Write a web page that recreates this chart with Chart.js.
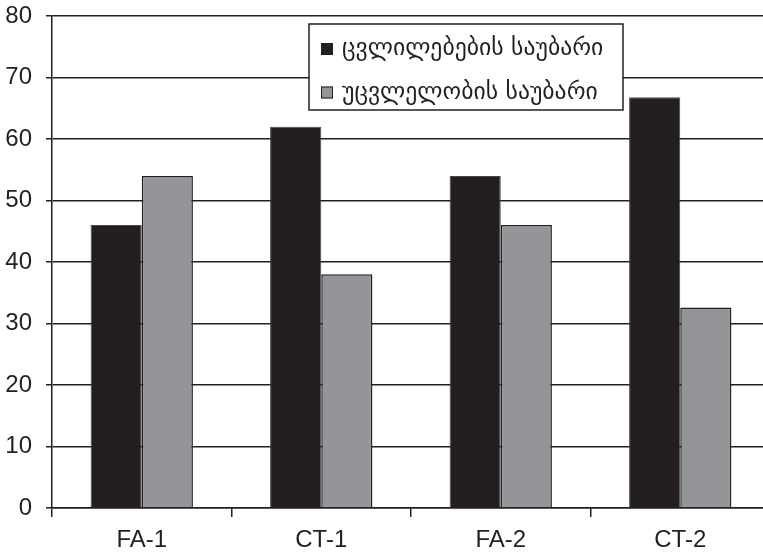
<!DOCTYPE html>
<html>
<head>
<meta charset="utf-8">
<script src="https://cdn.jsdelivr.net/npm/chart.js@4/dist/chart.umd.min.js"></script>
<style>
  html, body { margin: 0; padding: 0; background: #fff; overflow: hidden; width: 763px; height: 553px; }
  canvas { display: block; }
</style>
</head>
<body>
<canvas id="c" width="770" height="553"></canvas>
<script>
// Categories and series
const categories = ['FA-1', 'CT-1', 'FA-2', 'CT-2'];
const changeTalk = [46, 62, 54, 66.8];
const sustainTalk = [54, 38, 46, 32.6];
const seriesNames = ['ცვლილებების საუბარი', 'უცვლელობის საუბარი'];
const yTicks = [0, 10, 20, 30, 40, 50, 60, 70, 80];

const INK = '#231f20';
const GREY = '#939598';
const FONT = '"Liberation Sans", Arial, sans-serif';

// Boxed legend drawn inside the plot area
const boxLegend = {
  id: 'boxLegend',
  afterDraw(chart) {
    const ctx = chart.ctx;
    const x = 309, y = 24, w = 314, h = 86;
    ctx.save();
    ctx.fillStyle = '#fff';
    ctx.fillRect(x, y, w, h);
    ctx.strokeStyle = INK;
    ctx.lineWidth = 1.5;
    ctx.strokeRect(x, y, w, h);
    const rows = [55, 98.5];
    chart.data.datasets.forEach((ds, i) => {
      const base = rows[i];
      ctx.fillStyle = ds.backgroundColor;
      ctx.fillRect(x + 12, base - 12, 12, 12);
      ctx.strokeStyle = INK;
      ctx.lineWidth = 1;
      ctx.strokeRect(x + 12.5, base - 11.5, 11, 11);
      ctx.fillStyle = INK;
      ctx.font = '23.7px "DejaVu Sans", "Noto Sans", sans-serif';
      ctx.textBaseline = 'alphabetic';
      ctx.textAlign = 'left';
      ctx.fillText(ds.label, x + 33, base);
    });
    ctx.restore();
  }
};

new Chart(document.getElementById('c'), {
  type: 'bar',
  data: {
    labels: categories,
    datasets: [
      { label: seriesNames[0], data: changeTalk, backgroundColor: INK, borderColor: '#4a4647', borderWidth: 1 },
      { label: seriesNames[1], data: sustainTalk, backgroundColor: GREY, borderColor: INK, borderWidth: 1.5 }
    ]
  },
  options: {
    responsive: false,
    animation: false,
    layout: { padding: { top: 16, right: 0, bottom: 0, left: 0 } },
    datasets: { bar: { barPercentage: 1, categoryPercentage: 0.57 } },
    plugins: { legend: { display: false }, tooltip: { enabled: false } },
    scales: {
      x: {
        afterFit(axis) { axis.height = 45; axis.paddingLeft = 0; axis.paddingRight = 0; },
        grid: { offset: true, drawOnChartArea: false, drawTicks: true, tickLength: 9, color: INK, lineWidth: 1.5 },
        border: { display: true, color: INK, width: 1.5 },
        ticks: { color: INK, font: { family: FONT, size: 24 }, padding: 9 }
      },
      y: {
        min: 0, max: 80,
        afterFit(axis) { axis.width = 52; axis.paddingTop = 0; axis.paddingBottom = 0; },
        afterBuildTicks(axis) { axis.ticks = yTicks.map(v => ({ value: v })); },
        grid: { color: INK, lineWidth: 1.5, drawTicks: true, tickLength: 6 },
        border: { display: true, color: INK, width: 1.5 },
        ticks: { color: INK, font: { family: FONT, size: 24 }, padding: 14 }
      }
    }
  },
  plugins: [boxLegend]
});
</script>
</body>
</html>
